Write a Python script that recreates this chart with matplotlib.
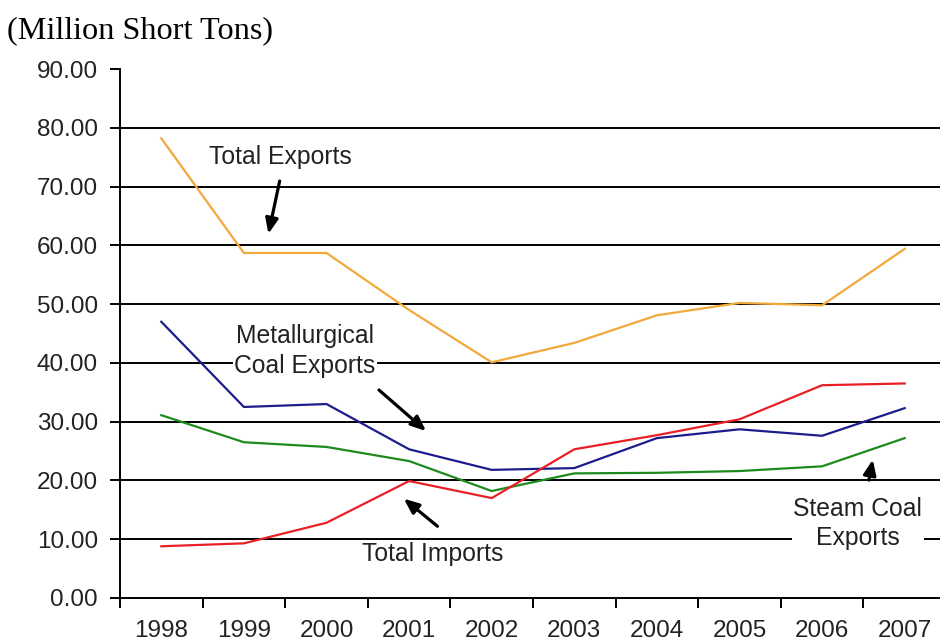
import numpy as np
import matplotlib
matplotlib.use('Agg')
import matplotlib.pyplot as plt

# 年と各系列 (百万ショートトン)
years = ['1998', '1999', '2000', '2001', '2002', '2003', '2004', '2005', '2006', '2007']
total_exports = [78.2, 58.7, 58.7, 49.0, 40.1, 43.4, 48.1, 50.2, 49.8, 59.4]
met_coal = [47.0, 32.5, 33.0, 25.3, 21.8, 22.1, 27.2, 28.7, 27.6, 32.3]
steam_coal = [31.1, 26.5, 25.7, 23.3, 18.2, 21.2, 21.3, 21.6, 22.4, 27.2]
total_imports = [8.8, 9.3, 12.8, 19.9, 17.0, 25.3, 27.7, 30.4, 36.2, 36.5]
yticks = [0, 10, 20, 30, 40, 50, 60, 70, 80, 90]

plt.rcParams['font.family'] = ['Liberation Sans', 'DejaVu Sans']
fs = 17.8

fig = plt.figure(figsize=(9.4, 6.43), dpi=100)
# 右端は図の外まで伸ばす (元画像が右で切れている)
ax = fig.add_axes([120 / 940, 45 / 643, 826 / 940, 529 / 643])

x = np.arange(len(years))
ax.plot(x, total_exports, color='#F2A93B', lw=1.6, zorder=3)
ax.plot(x, met_coal, color='#1C1C8C', lw=1.6, zorder=3)
ax.plot(x, steam_coal, color='#1E8A1E', lw=1.6, zorder=3)
ax.plot(x, total_imports, color='#E82025', lw=1.6, zorder=3)

ax.set_xlim(-0.5, 9.5)
ax.set_ylim(0, 90)

for v in yticks[1:-1]:
    ax.axhline(v, color='black', lw=1.4, zorder=1)

ax.set_yticks(yticks)
ax.set_yticklabels(['%.2f' % v for v in yticks], fontsize=17.5, color='#222222')
ax.set_xticks(x)
ax.set_xticklabels(years, fontsize=17.5, color='#222222')
ax.set_xticks(np.arange(-0.5, 10, 1), minor=True)
ax.tick_params(axis='x', which='major', length=0, pad=15.5)
ax.tick_params(axis='x', which='minor', length=7, width=1.4, direction='out')
ax.tick_params(axis='y', length=7, width=1.4, direction='out', pad=9)

for s in ['top', 'right']:
    ax.spines[s].set_visible(False)
for s in ['left', 'bottom']:
    ax.spines[s].set_linewidth(1.4)

box = dict(facecolor='white', edgecolor='none', pad=1)
arrow = dict(arrowstyle='-|>,head_length=0.9,head_width=0.38', color='black', lw=2.3)

ax.annotate('', xy=(1.29, 61.5), xytext=(1.44, 71.4), arrowprops=arrow, zorder=5)
ax.text(1.44, 75.0, 'Total Exports', ha='center', va='center', fontsize=fs,
        color='#222222', bbox=box, zorder=4)

ax.text(1.74, 42.0, 'Metallurgical\nCoal Exports', ha='center', va='center', fontsize=fs,
        color='#222222', linespacing=1.3, bbox=box, zorder=4)
ax.annotate('', xy=(3.23, 28.1), xytext=(2.61, 35.7), arrowprops=arrow, zorder=5)

ax.text(3.29, 7.5, 'Total Imports', ha='center', va='center', fontsize=fs,
        color='#222222', bbox=box, zorder=4)
ax.annotate('', xy=(2.91, 17.2), xytext=(3.37, 11.9), arrowprops=arrow, zorder=5)

ax.text(8.43, 12.7, 'Steam Coal\nExports', ha='center', va='center', fontsize=fs,
        color='#222222', linespacing=1.3, bbox=box, zorder=4)
ax.annotate('', xy=(8.62, 24.0), xytext=(8.56, 19.6), arrowprops=arrow, zorder=5)

fig.text(7 / 940, 1 - 31 / 643, '(Million Short Tons)', fontsize=23.2,
         family=['Liberation Serif', 'DejaVu Serif'], va='center', ha='left')

fig.savefig('out.png', dpi=100)
